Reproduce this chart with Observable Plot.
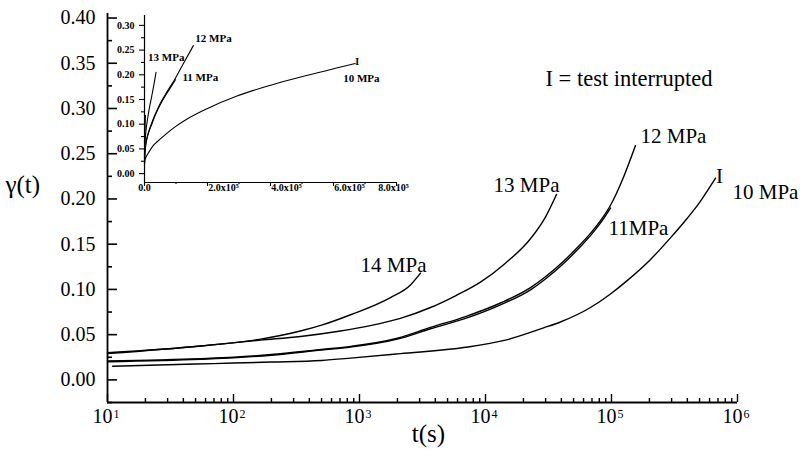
<!DOCTYPE html>
<html><head><meta charset="utf-8">
<script src="https://cdn.jsdelivr.net/npm/d3@7"></script>
<script src="https://cdn.jsdelivr.net/npm/@observablehq/plot@0.6"></script>
<style>
body{margin:0;background:#fff;}
#wrap{position:relative;width:803px;height:459px;overflow:hidden;}
#inset{position:absolute;left:0;top:0;}
#wrap svg text, #wrap svg tspan{font-family:"Liberation Serif","Times New Roman",serif !important;}
</style></head><body><div id="wrap"><div id="main"></div><div id="inset"></div></div>
<script>
// ---- data (time t in s, shear strain gamma) ----
const t14 = [10, 55, 164, 340, 500, 850, 1760, 2540, 3050];
const g14 = [0.030, 0.0375, 0.045, 0.054, 0.0605, 0.072, 0.091, 0.105, 0.118];
const t13 = [10, 55, 164, 340, 706, 1220, 2110, 3660, 5780, 9120, 14400, 22750, 29900, 36600];
const g13 = [0.029, 0.0375, 0.044, 0.048, 0.054, 0.060, 0.068, 0.080, 0.093, 0.108, 0.129, 0.156, 0.180, 0.205];
const t12 = [10, 55, 100, 200, 500, 850, 2000, 3660, 6940, 13150, 22750, 29900, 40800, 56750, 68100, 81850, 98200, 124500, 155000];
const g12 = [0.021, 0.0235, 0.025, 0.028, 0.0337, 0.037, 0.046, 0.058, 0.070, 0.085, 0.102, 0.114, 0.130, 0.150, 0.162, 0.176, 0.193, 0.224, 0.259];
const t11 = [10, 55, 100, 200, 500, 850, 2000, 3660, 6940, 13150, 22750, 29900, 40800, 56750, 68100, 81850, 98200];
const g11 = [0.020, 0.0228, 0.0243, 0.0273, 0.0330, 0.0362, 0.0450, 0.0565, 0.0680, 0.0830, 0.0995, 0.1115, 0.1275, 0.1475, 0.1595, 0.1735, 0.190];
const t10 = [11, 50, 100, 200, 500, 850, 2110, 6940, 14400, 28900, 39300, 68100, 98200, 133900, 200400, 293600, 400900, 499000, 668900];
const g10 = [0.015, 0.0175, 0.0186, 0.0197, 0.0215, 0.024, 0.029, 0.036, 0.044, 0.0575, 0.064, 0.080, 0.095, 0.110, 0.132, 0.157, 0.179, 0.196, 0.223];
const seriesNames = ["14 MPa", "13 MPa", "12 MPa", "11 MPa", "10 MPa"];
const mainLabels = ["14 MPa", "13 MPa", "12 MPa", "11MPa", "10 MPa"];
const insetLabels = ["", "13 MPa", "12 MPa", "11 MPa", "10 MPa"];
const interruptMark = "I";
const noteText = "I = test interrupted";
const xTickExp = [1, 2, 3, 4, 5, 6];
const yTickVals = [0.00, 0.05, 0.10, 0.15, 0.20, 0.25, 0.30, 0.35, 0.40];
const insetYTicks = [0.00, 0.05, 0.10, 0.15, 0.20, 0.25, 0.30];
const insetXTicks = [0, 200000, 400000, 600000, 800000];
const insetXLabels = ["0.0", "2.0x10\u2075", "4.0x10\u2075", "6.0x10\u2075", "8.0x10\u2075"];
const xLabel = "t(s)";
const yLabel = "\u03b3(t)";

// ---- build table ----
const ts = [t14, t13, t12, t11, t10], gs = [g14, g13, g12, g11, g10];
const rows = [];
ts.forEach((tArr, i) => tArr.forEach((t, j) => rows.push({s: seriesNames[i], t, g: gs[i][j]})));
const ends = ts.map((tArr, i) => ({s: seriesNames[i], i, t: tArr[tArr.length - 1], g: gs[i][gs[i].length - 1]}));

const FONT = "'Liberation Serif', 'Times New Roman', serif";
const W = 803, H = 459, mL = 107, mR = 66, mT = 13, mB = 57;
const fW = W - mL - mR, fH = H - mT - mB;
const yMin = -0.025, yMax = 0.405;
const xMajor = xTickExp.map(e => Math.pow(10, e));
const xMinor = [];
for (let e = 1; e < 6; e++) for (let k = 2; k <= 9; k++) xMinor.push(k * Math.pow(10, e));
const yMinor = yTickVals.map(v => v + 0.025).filter(v => v < yMax).concat([yMin]);

// per-label offsets (pixels)
const mainOff = [
  {dx: 6, dy: -8, a: "end"},
  {dx: 3, dy: -9, a: "end"},
  {dx: 5, dy: -9, a: "start"},
  {dx: -2, dy: 20, a: "start"},
  {dx: 17, dy: 14, a: "start"}
];

const main = Plot.plot({
  width: W, height: H, marginLeft: mL, marginRight: mR, marginTop: mT, marginBottom: mB,
  x: {type: "log", domain: [10, 1e6], axis: null},
  y: {domain: [yMin, yMax], axis: null},
  style: {fontFamily: FONT, background: "white", color: "black"},
  marks: [
    Plot.ruleX([10], {stroke: "black", strokeWidth: 1.8}),
    Plot.ruleY([yMin], {stroke: "black", strokeWidth: 1.8}),
    Plot.tickY(yTickVals, {y: d => d, insetRight: fW - 10, strokeWidth: 1.6}),
    Plot.tickY(yMinor, {y: d => d, insetRight: fW - 5, strokeWidth: 1.6}),
    Plot.tickX(xMajor, {x: d => d, insetTop: fH - 8, strokeWidth: 1.4}),
    Plot.tickX(xMinor, {x: d => d, insetTop: fH - 4, strokeWidth: 1.4}),
    Plot.text(yTickVals, {y: d => d, frameAnchor: "left", dx: -12, textAnchor: "end", text: d => d.toFixed(2), fontSize: 20, fontFamily: FONT}),
    Plot.text(xMajor, {x: d => d, frameAnchor: "bottom", dx: 5, dy: 20, textAnchor: "end", text: () => "10", fontSize: 20, fontFamily: FONT}),
    Plot.text(xMajor, {x: d => d, frameAnchor: "bottom", dx: 6, dy: 15, textAnchor: "start", text: d => String(Math.round(Math.log10(d))), fontSize: 12, fontFamily: FONT}),
    Plot.line(rows, {x: "t", y: "g", z: "s", curve: "monotone-x", stroke: "black", strokeWidth: 1.4}),
    ...ends.map((e, i) => Plot.text([e], {x: "t", y: "g", text: () => mainLabels[i], dx: mainOff[i].dx, dy: mainOff[i].dy, textAnchor: mainOff[i].a, fontSize: 21, fontFamily: FONT})),
    Plot.text([ends[4]], {x: "t", y: "g", text: () => interruptMark, dx: 4, dy: -2, fontSize: 21, fontFamily: FONT}),
    Plot.text([noteText], {frameAnchor: "top-right", dx: -25, dy: 57, textAnchor: "end", fontSize: 22.5, fontFamily: FONT}),
    Plot.text([yLabel], {frameAnchor: "top-left", dx: -102, dy: 162, textAnchor: "start", fontSize: 25, fontFamily: FONT}),
    Plot.text([xLabel], {frameAnchor: "bottom-left", dx: 321, dy: 39, textAnchor: "middle", fontSize: 25, fontFamily: FONT})
  ]
});
document.getElementById("main").appendChild(main);

// ---- inset ----
const iW = 430, iH = 200, imL = 144, imR = 34, imT = 15, imB = 18;
const ifW = iW - imL - imR, ifH = iH - imT - imB;
const iyMin = -0.018, iyMax = 0.32;
const iyMinor = insetYTicks.map(v => v + 0.025).filter(v => v < iyMax);
const ixMinor = [100000, 300000, 500000, 700000];
const insetOff = [
  null,
  {dx: -8, dy: -15},
  {dx: 2, dy: -7},
  {dx: 7, dy: -2},
  {dx: -12, dy: 15}
];
const ixDx = insetXTicks.map((_, i) => i === 0 ? 0 : (i === insetXTicks.length - 1 ? -3 : 16));

const inset = Plot.plot({
  width: iW, height: iH, marginLeft: imL, marginRight: imR, marginTop: imT, marginBottom: imB,
  x: {domain: [0, 8e5], axis: null},
  y: {domain: [iyMin, iyMax], axis: null},
  style: {fontFamily: FONT, background: "transparent", color: "black"},
  marks: [
    Plot.ruleX([0], {stroke: "black", strokeWidth: 1.2}),
    Plot.ruleY([iyMin], {stroke: "black", strokeWidth: 1.2}),
    Plot.tickY(insetYTicks, {y: d => d, insetLeft: -5, insetRight: ifW, strokeWidth: 1.1}),
    Plot.tickY(iyMinor, {y: d => d, insetLeft: -3, insetRight: ifW, strokeWidth: 1.1}),
    Plot.tickX(insetXTicks, {x: d => d, insetTop: ifH, insetBottom: -4, strokeWidth: 1.1}),
    Plot.tickX(ixMinor, {x: d => d, insetTop: ifH, insetBottom: -2, strokeWidth: 1.1}),
    Plot.text(insetYTicks, {y: d => d, frameAnchor: "left", dx: -10, textAnchor: "end", text: d => d.toFixed(2), fontSize: 10, fontWeight: "bold", fontFamily: FONT}),
    ...insetXTicks.map((v, i) => Plot.text([v], {x: d => d, frameAnchor: "bottom", dx: ixDx[i], dy: 8, text: () => insetXLabels[i], fontSize: 10, fontWeight: "bold", fontFamily: FONT})),
    Plot.line(rows, {x: "t", y: "g", z: "s", curve: "monotone-x", stroke: "black", strokeWidth: 1.1}),
    ...ends.slice(1).map((e, k) => {
      const i = k + 1;
      return Plot.text([e], {x: "t", y: "g", text: () => insetLabels[i], dx: insetOff[i].dx, dy: insetOff[i].dy, textAnchor: "start", fontSize: 11, fontWeight: "bold", fontFamily: FONT});
    }),
    Plot.text([ends[4]], {x: "t", y: "g", text: () => interruptMark, dx: 2, dy: -2, fontSize: 10, fontWeight: "bold", fontFamily: FONT})
  ]
});
document.getElementById("inset").appendChild(inset);
</script></body></html>
